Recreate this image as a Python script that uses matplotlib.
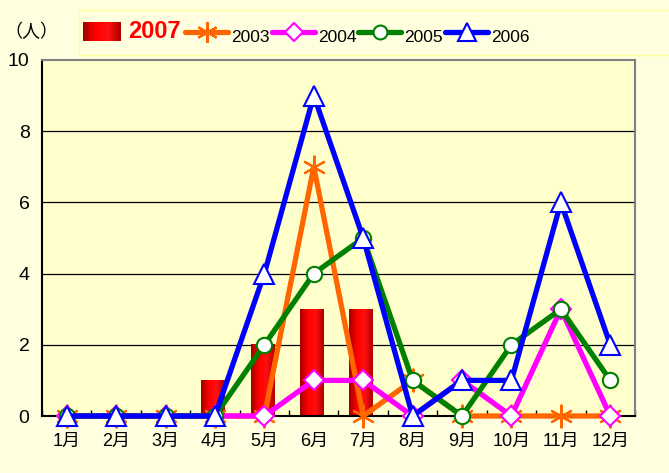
import numpy as np
import matplotlib
matplotlib.use("Agg")
import matplotlib.pyplot as plt
from matplotlib.lines import Line2D
from matplotlib.patches import Rectangle
from matplotlib.colors import LinearSegmentedColormap
from matplotlib import font_manager

months = ["1月", "2月", "3月", "4月", "5月", "6月", "7月", "8月", "9月", "10月", "11月", "12月"]
v2007 = [0, 0, 0, 1, 2, 3, 3, 0, 0, 0, 0, 0]
v2003 = [0, 0, 0, 0, 0, 7, 0, 1, 0, 0, 0, 0]
v2004 = [0, 0, 0, 0, 0, 1, 1, 0, 1, 0, 3, 0]
v2005 = [0, 0, 0, 0, 2, 4, 5, 1, 0, 2, 3, 1]
v2006 = [0, 0, 0, 0, 4, 9, 5, 0, 1, 1, 6, 2]
yticks = [0, 2, 4, 6, 8, 10]

names = {f.name for f in font_manager.fontManager.ttflist}
narrow = "Liberation Sans Narrow" if "Liberation Sans Narrow" in names else "Liberation Sans"
fam = [narrow, "Noto Sans CJK JP", "DejaVu Sans"]
jfam = ["Noto Sans CJK JP", "DejaVu Sans"]

FIG_BG = "#FFFFE0"
AX_BG = "#FFFFCC"

fig = plt.figure(figsize=(6.69, 4.73), dpi=100)
fig.patch.set_facecolor(FIG_BG)
ax = fig.add_axes([42 / 669, 1 - 416 / 473, (635 - 42) / 669, (416 - 60) / 473])
ax.set_facecolor(AX_BG)

x = np.arange(len(months))
cmap = LinearSegmentedColormap.from_list("bar", ["#A00000", "#FF0000", "#FF1010", "#B00000"])
grad = np.linspace(0, 1, 64).reshape(1, -1)
bw = 0.48
bars = ax.bar(x - 0.04, v2007, width=bw, color="none", edgecolor="none", zorder=2)
for b in bars:
    h = b.get_height()
    if h > 0:
        x0 = b.get_x()
        ax.imshow(grad, cmap=cmap, extent=[x0, x0 + bw, 0, h], aspect="auto",
                  origin="lower", zorder=2, interpolation="bilinear")

lw = 3.8
ax.plot(x, v2003, color="#FF6600", lw=lw, marker=(6, 2, 0), ms=17, mew=1.5,
        mec="#FF6600", zorder=3, clip_on=False)
ax.plot(x, v2004, color="#FF00FF", lw=lw, marker="D", ms=10, mfc="white",
        mec="#FF00FF", mew=1.5, zorder=4, clip_on=False)
ax.plot(x, v2005, color="#008000", lw=lw, marker="o", ms=11, mfc="white",
        mec="#008000", mew=1.5, zorder=5, clip_on=False)
ax.plot(x, v2006, color="#0000FF", lw=lw, marker="^", ms=15, mfc="white",
        mec="#0000FF", mew=1.5, zorder=6, clip_on=False)

ax.set_xlim(-0.5, len(months) - 0.5)
ax.set_ylim(0, 10)
ax.set_yticks(yticks)
ax.set_yticklabels([str(t) for t in yticks], fontsize=14, family=fam)
ax.tick_params(axis="y", length=0, pad=9)
for t in yticks[1:-1]:
    ax.axhline(t, color="black", lw=0.9, zorder=1)
ax.set_xticks(x)
ax.set_xticklabels(months, fontsize=13, family=fam)
ax.tick_params(axis="x", length=0, pad=12)
ax.set_xticks(np.arange(-0.5, len(months), 1), minor=True)
ax.tick_params(axis="x", which="minor", direction="in", length=4, width=1, color="black")
for side in ["left", "bottom"]:
    ax.spines[side].set_color("black")
    ax.spines[side].set_linewidth(1.5)
for side in ["top", "right"]:
    ax.spines[side].set_color("#808080")
    ax.spines[side].set_linewidth(1.5)

def fx(px):
    return px / 669

def fy(py):
    return 1 - py / 473

fig.text(fx(4), fy(32), "（人）", fontsize=13, family=jfam, va="center", ha="left")

# legend
box = Rectangle((fx(79), fy(55)), fx(700 - 79), 45 / 473, transform=fig.transFigure,
                facecolor=FIG_BG, edgecolor="#FFFF99", lw=1)
box.set_zorder(-1)
fig.add_artist(box)
lx0, lx1, ly0, ly1 = 83, 120, 22, 41
lg = fig.add_axes([fx(lx0), fy(ly1), fx(lx1 - lx0), (ly1 - ly0) / 473])
lg.imshow(grad, cmap=cmap, aspect="auto", extent=[0, 1, 0, 1], interpolation="bilinear")
lg.axis("off")
lg.set_zorder(3)
fig.text(fx(128), fy(32), "2007", fontsize=17, fontweight="bold", color="#FF0000",
         family=fam, va="center", ha="left")

items = [("2003", "#FF6600", (6, 2, 0), 15, "#FF6600", 185),
         ("2004", "#FF00FF", "D", 9, "white", 272),
         ("2005", "#008000", "o", 10, "white", 358),
         ("2006", "#0000FF", "^", 13, "white", 445)]
for lab, col, mk, ms, mfc, x0 in items:
    fig.add_artist(Line2D([fx(x0), fx(x0 + 43)], [fy(32), fy(32)], transform=fig.transFigure,
                          color=col, lw=lw, solid_capstyle="round"))
    fig.add_artist(Line2D([fx(x0 + 21.5)], [fy(32)], transform=fig.transFigure, marker=mk,
                          ms=ms, mfc=mfc, mec=col, mew=1.5, color=col))
    fig.text(fx(x0 + 46), fy(38), lab, fontsize=12.5, family=fam, va="center", ha="left")

fig.savefig("out.png", dpi=100, facecolor=FIG_BG)
